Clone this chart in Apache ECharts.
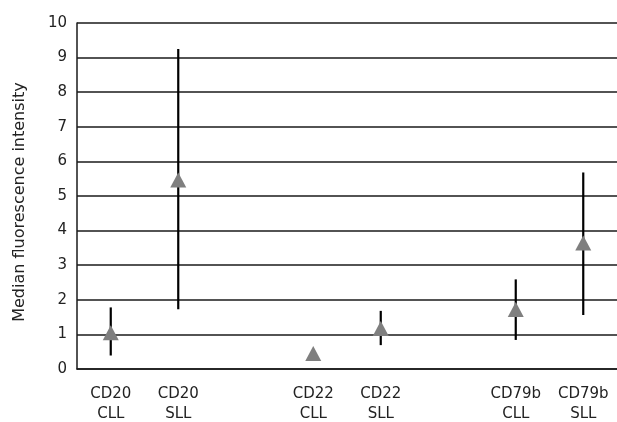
<!DOCTYPE html>
<html>
<head>
<meta charset="utf-8">
<script src="https://cdn.jsdelivr.net/npm/echarts@6/dist/echarts.min.js"></script>
<style>
html,body{margin:0;padding:0;background:#fff;}
#chart{width:617px;height:422px;}
</style>
</head>
<body>
<div id="chart"></div>
<script>
// Categories (empty slots are gaps between groups)
var categories = ['CD20\nCLL', 'CD20\nSLL', '', 'CD22\nCLL', 'CD22\nSLL', '', 'CD79b\nCLL', 'CD79b\nSLL'];
// Median fluorescence intensity (triangles)
var medianValues = [1.05, 5.46, null, 0.45, 1.17, null, 1.72, 3.64];
// Range low / high (vertical bars)
var lowValues = [0.39, 1.73, null, null, 0.69, null, 0.84, 1.56];
var highValues = [1.78, 9.25, null, null, 1.68, null, 2.59, 5.68];
// Y axis ticks
var yTicks = [0, 1, 2, 3, 4, 5, 6, 7, 8, 9, 10];
var yAxisName = 'Median fluorescence intensity';

var rangeData = [];
for (var i = 0; i < categories.length; i++) {
  if (lowValues[i] != null && highValues[i] != null) {
    rangeData.push([i, lowValues[i], highValues[i]]);
  }
}
var medianData = [];
for (var j = 0; j < categories.length; j++) {
  if (medianValues[j] != null) medianData.push([j, medianValues[j]]);
}

var font = "'DejaVu Sans', sans-serif";
var chart = echarts.init(document.getElementById('chart'), null, {renderer: 'canvas'});
chart.setOption({
  animation: false,
  backgroundColor: '#ffffff',
  grid: {left: 77, right: 0, top: 23, bottom: 53, containLabel: false, outerBoundsMode: 'none'},
  xAxis: {
    type: 'category',
    data: categories,
    boundaryGap: true,
    axisLine: {show: true, lineStyle: {color: '#1a1a1a', width: 1.5}},
    axisTick: {show: false},
    splitLine: {show: false},
    axisLabel: {
      interval: 0,
      margin: 15,
      fontSize: 15,
      lineHeight: 20,
      color: '#222',
      fontFamily: font
    }
  },
  yAxis: {
    type: 'value',
    min: yTicks[0],
    max: yTicks[yTicks.length - 1],
    interval: 1,
    name: yAxisName,
    nameLocation: 'middle',
    nameGap: 49,
    nameRotate: 90,
    nameTextStyle: {fontSize: 16, color: '#222', fontFamily: font, padding: [0, 12, 0, 0]},
    axisLine: {show: true, lineStyle: {color: '#1a1a1a', width: 1.5}},
    axisTick: {show: false},
    axisLabel: {fontSize: 15, color: '#222', margin: 10, fontFamily: font},
    splitLine: {show: true, lineStyle: {color: '#1a1a1a', width: 1.5}}
  },
  series: [
    {
      type: 'custom',
      z: 2,
      data: rangeData,
      encode: {x: 0, y: [1, 2]},
      renderItem: function (params, api) {
        var x = api.value(0);
        var lo = api.coord([x, api.value(1)]);
        var hi = api.coord([x, api.value(2)]);
        return {
          type: 'line',
          shape: {x1: lo[0], y1: lo[1], x2: hi[0], y2: hi[1]},
          style: {stroke: '#000', lineWidth: 2.2}
        };
      }
    },
    {
      type: 'scatter',
      z: 3,
      data: medianData,
      symbol: 'triangle',
      symbolSize: [16, 15],
      itemStyle: {color: '#7f7f7f', opacity: 1}
    }
  ]
});
</script>
</body>
</html>
